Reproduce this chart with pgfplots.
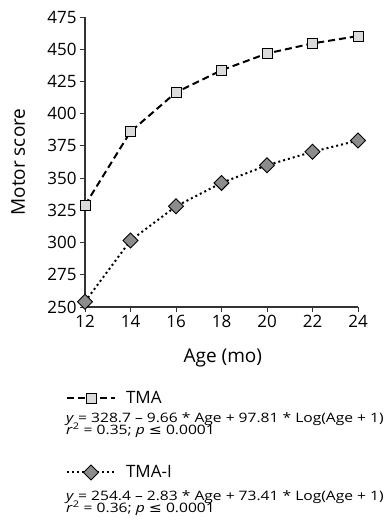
\documentclass[border=0pt]{standalone}
\usepackage{pgfplots}
\pgfplotsset{compat=1.18}
\usepackage{pgfplotstable}
\usepackage{graphicx}
\usepackage{fontspec}
\setmainfont{Open Sans}
\newfontfamily\symfont{DejaVu Sans}
\newcommand\eqline[1]{\scalebox{1.2}[1]{#1}}

% Mean motor scores by age (months)
\pgfplotstableread{
age tma   tmai
12  329.0 254.1
14  386.0 301.6
16  416.5 328.1
18  433.7 346.3
20  446.7 360.0
22  454.5 370.4
24  460.2 379.2
}\scores

\begin{document}
\begin{tikzpicture}[x=1pt,y=1pt]
\useasboundingbox (0,0) rectangle (385,-528);
\begin{axis}[
  at={(85pt,-307pt)}, anchor=south west,
  scale only axis, width=273pt, height=290pt,
  xmin=12, xmax=24, ymin=250, ymax=475,
  axis x line*=bottom, axis y line*=left,
  axis line style={line width=1.2pt, black!80, -},
  xtick={12,14,...,24}, ytick={250,275,...,475},
  tick align=outside, major tick length=5pt,
  tick style={line width=1pt, black!80},
  tick label style={font=\fontsize{17}{17}\selectfont},
  /pgf/number format/assume math mode=true,
  xlabel={Age (mo)}, ylabel={Motor score},
  label style={font=\fontsize{19}{19}\selectfont},
  xlabel style={at={(axis description cs:0.505,-0.176)}, anchor=center},
  ylabel style={at={(axis description cs:-0.245,0.5)}, anchor=center},
  clip=false,
  legend image code/.code={\draw[#1, mark repeat=2, mark phase=2]
    plot coordinates {(0pt,0pt) (24pt,0pt) (48pt,0pt)};
    \path (54pt,0pt);},
  legend style={draw=none, fill=none, inner sep=0pt, row sep=60pt,
    at={(axis description cs:-0.07,-0.29)}, anchor=north west,
    font=\fontsize{17}{17}\selectfont,
    nodes={inner xsep=4pt, inner ysep=0pt}},
  legend cell align=left,
]
\addplot[black, line width=2pt, dash pattern=on 7pt off 4pt,
  mark=square*, mark size=5pt,
  mark options={solid, fill=black!14, draw=black, line width=0.9pt}]
  table[x=age, y=tma] {\scores};
\addlegendentry{TMA}
\addplot[black, line width=2pt, dash pattern=on 2pt off 3pt,
  mark=square*, mark size=5.3pt,
  mark options={solid, rotate=45, fill=black!45, draw=black, line width=0.9pt}]
  table[x=age, y=tmai] {\scores};
\addlegendentry{TMA-I}
\end{axis}
% regression equations under each legend entry
\begin{scope}[every node/.style={anchor=base west, inner sep=0pt,
    font=\fontsize{13}{13}\selectfont}]
\node at (66,-422) {\eqline{\textit{y} = 328.7 – 9.66 * Age + 97.81 * Log(Age + 1)}};
\node at (66,-434) {\eqline{\textit{r}\textsuperscript{2} = 0.35; \textit{p} {\symfont ≤} 0.0001}};
\node at (66,-500) {\eqline{\textit{y} = 254.4 – 2.83 * Age + 73.41 * Log(Age + 1)}};
\node at (66,-512) {\eqline{\textit{r}\textsuperscript{2} = 0.36; \textit{p} {\symfont ≤} 0.0001}};
\end{scope}
\end{tikzpicture}
\end{document}
